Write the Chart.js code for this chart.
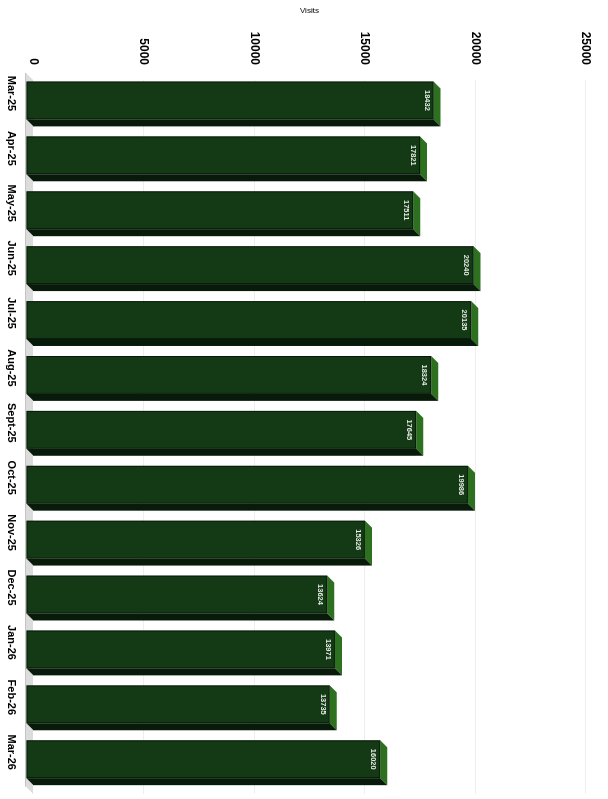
<!DOCTYPE html>
<html>
<head>
<meta charset="utf-8">
<script src="https://cdn.jsdelivr.net/npm/chart.js@4.4.1/dist/chart.umd.min.js"></script>
<style>
  html, body { margin: 0; padding: 0; background: #fff; overflow: hidden; width: 608px; height: 799px; }
  /* the landscape column chart is turned a quarter turn clockwise onto the portrait page */
  #wrap { position: absolute; left: 608px; top: 0; width: 799px; height: 608px;
          transform-origin: 0 0; transform: rotate(90deg); }
</style>
</head>
<body>
<div id="wrap"><canvas id="c" width="799" height="608"></canvas></div>
<script>
const months = ['Mar-25', 'Apr-25', 'May-25', 'Jun-25', 'Jul-25', 'Aug-25', 'Sept-25',
                'Oct-25', 'Nov-25', 'Dec-25', 'Jan-26', 'Feb-26', 'Mar-26'];
const visits = [18432, 17821, 17511, 20240, 20135, 18324, 17645,
                19986, 15326, 13624, 13971, 13735, 16020];
const axisMax = 25000;
const axisStep = 5000;
const axisTitle = 'Visits';

const FONT = '"Liberation Sans", Arial, sans-serif';
const DEPTH = 7;
const FRONT = '#133a14';
const TOP = '#2c7020';
const SIDE = '#081a0a';

function poly(ctx, pts, fill) {
  ctx.beginPath();
  ctx.moveTo(pts[0][0], pts[0][1]);
  for (let i = 1; i < pts.length; i++) ctx.lineTo(pts[i][0], pts[i][1]);
  ctx.closePath();
  ctx.fillStyle = fill;
  ctx.fill();
}

// draws each bar as a block with a front face, a top face and a side face
const blocks = {
  id: 'blocks',
  beforeDatasetsDraw(chart) {
    const { ctx, chartArea } = chart;
    const base = chart.scales.y.getPixelForValue(0);
    const d = DEPTH;
    ctx.save();
    poly(ctx, [[chartArea.left, base], [chartArea.right, base],
               [chartArea.right - d, base + d], [chartArea.left - d, base + d]], '#dcdcdc');
    ctx.strokeStyle = '#c4c4c4';
    ctx.lineWidth = 1;
    ctx.beginPath();
    ctx.moveTo(chartArea.left - d, base + d + 0.5);
    ctx.lineTo(chartArea.right - d, base + d + 0.5);
    ctx.stroke();
    ctx.restore();
  },
  afterDatasetsDraw(chart) {
    const { ctx } = chart;
    const meta = chart.getDatasetMeta(0);
    const d = DEPTH;
    ctx.save();
    meta.data.forEach((bar, i) => {
      const { x, y, base, width } = bar.getProps(['x', 'y', 'base', 'width'], true);
      const l = x - width / 2, r = x + width / 2;
      poly(ctx, [[l, y], [r, y], [r - d, y + d], [l - d, y + d]], TOP);
      poly(ctx, [[r, y], [r, base], [r - d, base + d], [r - d, y + d]], SIDE);
      ctx.fillStyle = FRONT;
      ctx.fillRect(l - d, y + d, width, base - y);
      ctx.strokeStyle = 'rgba(0,0,0,0.55)';
      ctx.lineWidth = 1;
      ctx.strokeRect(l - d + 0.5, y + d + 0.5, width - 1, base - y - 1);
      ctx.fillStyle = '#e6ece6';
      ctx.font = 'bold 7.5px ' + FONT;
      ctx.textAlign = 'center';
      ctx.textBaseline = 'middle';
      ctx.fillText(String(chart.data.datasets[0].data[i]), x - d, y + d + 7);
    });
    ctx.restore();
  }
};

new Chart(document.getElementById('c'), {
  type: 'bar',
  data: {
    labels: months,
    datasets: [{
      label: axisTitle,
      data: visits,
      backgroundColor: 'rgba(0,0,0,0)',
      borderWidth: 0,
      categoryPercentage: 1,
      barPercentage: 0.69
    }]
  },
  options: {
    responsive: false,
    animation: false,
    devicePixelRatio: 1,
    layout: { padding: { top: 21, right: 1, left: 0, bottom: 0 } },
    plugins: { legend: { display: false }, tooltip: { enabled: false } },
    scales: {
      x: {
        grid: { display: false, drawTicks: false },
        border: { display: false },
        ticks: { color: '#000', font: { family: FONT, size: 11, weight: 'bold' },
                 padding: 15, labelOffset: -14, maxRotation: 0, autoSkip: false },
        afterFit(s) { s.height = 33; }
      },
      y: {
        min: 0, max: axisMax,
        grid: { color: '#eeeeee', drawTicks: false },
        border: { display: false },
        ticks: { stepSize: axisStep, color: '#000', padding: 15,
                 font: { family: FONT, size: 12, weight: 'bold' },
                 callback: (v) => String(v) },
        title: { display: true, text: axisTitle, color: '#000',
                 font: { family: FONT, size: 8 }, padding: { top: 6, bottom: 0 } },
        afterFit(s) { s.width = 80; }
      }
    }
  },
  plugins: [blocks]
});
</script>
</body>
</html>
